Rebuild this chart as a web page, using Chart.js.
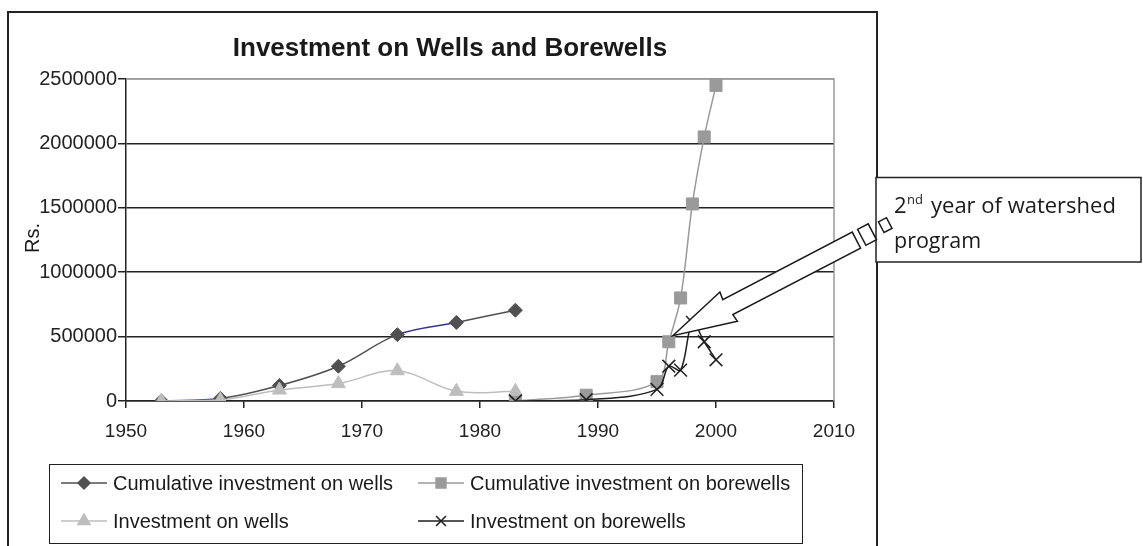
<!DOCTYPE html>
<html>
<head>
<meta charset="utf-8">
<title>Investment on Wells and Borewells</title>
<script src="https://cdn.jsdelivr.net/npm/chart.js@4.4.1/dist/chart.umd.min.js"></script>
<style>
  body { margin: 0; background: #fff; }
  #wrap { width: 1143px; height: 546px; }
</style>
</head>
<body>
<div id="wrap"><canvas id="lineChart" width="1143" height="546"></canvas></div>
<script>

let wellYears = [1953, 1958, 1963, 1968, 1973, 1978, 1983];
let boreYears = [1983, 1989, 1995, 1996, 1997, 1998, 1999, 2000];

let cumWells = [0, 20000, 120000, 270000, 515000, 610000, 705000];
let invWells = [0, 8000, 85000, 135000, 235000, 75000, 75000];
let cumBorewells = [0, 45000, 150000, 460000, 800000, 1530000, 2050000, 2450000];
let invBorewells = [0, 10000, 90000, 270000, 240000, 610000, 460000, 320000];

let seriesNames = [
  'Cumulative investment on wells',
  'Cumulative investment on borewells',
  'Investment on wells',
  'Investment on borewells'
];
let xTicks = [1950, 1960, 1970, 1980, 1990, 2000, 2010];
let yTicks = [0, 500000, 1000000, 1500000, 2000000, 2500000];

let titleText = 'Investment on Wells and Borewells';
let yTitle = 'Rs.';
let noteYear = 1996;
let noteText = ['2', 'nd', 'year of watershed', 'program'];

const SANS = "'Liberation Sans', Arial, sans-serif";
const NOTE = "'Open Sans', sans-serif";
Chart.defaults.font.family = SANS;
Chart.defaults.color = '#222';

function toPoints(xs, ys) {
  return xs.map(function (x, i) { return { x: x, y: ys[i] }; });
}

var styles = [
  { color: '#505050', point: 'rectRot', r: 7, lr: 6 },
  { color: '#9a9a9a', point: 'rect', r: 8.5, lr: 7 },
  { color: '#bdbdbd', point: 'triangle', r: 8, lr: 7 },
  { color: '#1e1e1e', point: 'crossRot', r: 9, lr: 7 }
];

function makeSet(i, data, order) {
  let s = styles[i];
  return {
    label: seriesNames[i],
    data: data,
    order: order,
    borderColor: s.color,
    backgroundColor: s.color,
    borderWidth: 1.5,
    pointStyle: s.point,
    pointRadius: s.r,
    pointBorderWidth: i == 3 ? 1.5 : 1,
    pointBackgroundColor: s.color,
    pointBorderColor: s.color,
    tension: 0.35
  };
}

var datasets = [
  makeSet(0, toPoints(wellYears, cumWells), 4),
  makeSet(1, toPoints(boreYears, cumBorewells), 3),
  makeSet(2, toPoints(wellYears, invWells), 2),
  makeSet(3, toPoints(boreYears, invBorewells), 1)
];
// the reference shows two bluish stretches on the first series
datasets[0].segment = {
  borderColor: function (ctx) { return (ctx.p0DataIndex == 0 || ctx.p0DataIndex == 4) ? '#35358f' : undefined; }
};

function marker(ctx, s, x, y, r) {
  ctx.save();
  ctx.fillStyle = s.color;
  ctx.strokeStyle = s.color;
  ctx.lineWidth = 1.5;
  Chart.helpers.drawPoint(ctx, { pointStyle: s.point, radius: r, rotation: 0, borderWidth: 1.5 }, x, y);
  ctx.restore();
}

var decor = {
  id: 'decor',
  beforeDraw: function (chart) {
    let ctx = chart.ctx;
    ctx.save();
    ctx.fillStyle = '#fff';
    ctx.fillRect(0, 0, chart.width, chart.height);
    ctx.restore();
  },
  beforeDatasetsDraw: function (chart) {
    let ctx = chart.ctx, a = chart.chartArea;
    ctx.save();
    ctx.strokeStyle = '#9a9a9a';
    ctx.lineWidth = 1.5;
    ctx.beginPath();
    ctx.moveTo(a.left, a.top);
    ctx.lineTo(a.right, a.top);
    ctx.lineTo(a.right, a.bottom);
    ctx.stroke();
    ctx.restore();
  },
  afterDraw: function (chart) {
    let ctx = chart.ctx;
    ctx.save();

    // outer frame
    ctx.strokeStyle = '#222';
    ctx.lineWidth = 2;
    ctx.beginPath();
    ctx.moveTo(8, 560);
    ctx.lineTo(8, 12);
    ctx.lineTo(877, 12);
    ctx.lineTo(877, 560);
    ctx.stroke();

    // title
    ctx.fillStyle = '#1a1a1a';
    ctx.font = 'bold 26px ' + SANS;
    ctx.textAlign = 'center';
    ctx.textBaseline = 'alphabetic';
    ctx.fillText(titleText, 450, 56);

    // y title
    ctx.save();
    ctx.translate(33, 238);
    ctx.rotate(-Math.PI / 2);
    ctx.font = '20px ' + SANS;
    ctx.textBaseline = 'middle';
    ctx.fillText(yTitle, 0, 0);
    ctx.restore();

    // legend
    ctx.lineWidth = 1;
    ctx.strokeStyle = '#222';
    ctx.fillStyle = '#fff';
    ctx.fillRect(49.5, 464.5, 753, 79);
    ctx.strokeRect(49.5, 464.5, 753, 79);
    let cols = [84, 441], rows = [483, 521];
    ctx.font = '20px ' + SANS;
    ctx.textAlign = 'left';
    ctx.textBaseline = 'middle';
    for (let i = 0; i < 4; i++) {
      let cx = cols[i % 2], cy = rows[Math.floor(i / 2)], s = styles[i];
      ctx.strokeStyle = s.color;
      ctx.lineWidth = 1.5;
      ctx.beginPath();
      ctx.moveTo(cx - 23, cy);
      ctx.lineTo(cx + 23, cy);
      ctx.stroke();
      marker(ctx, s, cx, cy, s.lr);
      ctx.fillStyle = '#1a1a1a';
      ctx.fillText(seriesNames[i], cx + 29, cy + 1);
    }

    // callout box
    ctx.fillStyle = '#fff';
    ctx.fillRect(876, 177.5, 265, 84.5);
    ctx.strokeStyle = '#222';
    ctx.lineWidth = 1.5;
    ctx.strokeRect(876, 177.5, 265, 84.5);
    ctx.fillStyle = '#1a1a1a';
    ctx.textBaseline = 'alphabetic';
    ctx.font = '22px ' + NOTE;
    ctx.fillText(noteText[0], 894, 213);
    ctx.font = '13px ' + NOTE;
    ctx.fillText(noteText[1], 907, 204);
    ctx.font = '22px ' + NOTE;
    ctx.fillText(noteText[2], 931, 213);
    ctx.font = '21.5px ' + NOTE;
    ctx.fillText(noteText[3], 894, 248);

    // block arrow pointing at the 1996 borewell point
    let xs = chart.scales.x, ys = chart.scales.y;
    let idx = boreYears.indexOf(noteYear);
    let tipX = xs.getPixelForValue(noteYear) + 4;
    let tipY = ys.getPixelForValue(cumBorewells[idx]) - 6;
    let ux = 0.887, uy = -0.462, nx = 0.462, ny = 0.887;
    function P(a, p) { return [tipX + ux * a + nx * p, tipY + uy * a + ny * p]; }
    function poly(pts) {
      ctx.beginPath();
      ctx.moveTo(pts[0][0], pts[0][1]);
      for (let k = 1; k < pts.length; k++) ctx.lineTo(pts[k][0], pts[k][1]);
      ctx.closePath();
      ctx.fill();
      ctx.stroke();
    }
    ctx.fillStyle = '#fff';
    ctx.strokeStyle = '#1a1a1a';
    ctx.lineWidth = 1.5;
    ctx.lineJoin = 'miter';
    poly([P(0, 0), P(62, -17), P(61, -9), P(207, -9), P(207, 9), P(63, 9), P(64, 17)]);
    poly([P(213, -9), P(225, -9), P(225, 9), P(213, 9)]);
    poly([P(235, -6), P(244, -6), P(244, 6), P(235, 6)]);

    ctx.restore();
  }
};

var ctx = document.getElementById('lineChart').getContext('2d');
var lineChart = new Chart(ctx, {
  type: 'line',
  data: { datasets: datasets },
  options: {
    responsive: false,
    animation: false,
    devicePixelRatio: 1,
    layout: { padding: { left: 0, right: 309, top: 79, bottom: 100 } },
    plugins: {
      legend: { display: false },
      title: { display: false },
      tooltip: { enabled: false }
    },
    scales: {
      x: {
        type: 'linear',
        min: 1950,
        max: 2010,
        afterBuildTicks: function (scale) { scale.ticks = xTicks.map(function (v) { return { value: v }; }); },
        afterFit: function (scale) { scale.height = 45; },
        ticks: {
          font: { size: 19 },
          color: '#222',
          padding: 12,
          maxRotation: 0,
          autoSkip: false,
          callback: function (v) { return String(v); }
        },
        grid: {
          drawOnChartArea: false,
          drawTicks: true,
          tickLength: 7,
          tickColor: '#222',
          lineWidth: 1.5
        },
        border: { color: '#222', width: 1.5 }
      },
      y: {
        min: 0,
        max: 2500000,
        afterBuildTicks: function (scale) { scale.ticks = yTicks.map(function (v) { return { value: v }; }); },
        afterFit: function (scale) { scale.width = 126; },
        ticks: {
          font: { size: 20 },
          color: '#222',
          padding: 1,
          autoSkip: false,
          callback: function (v) { return String(v); }
        },
        grid: {
          color: function (c) { return c.tick && c.tick.value == 2500000 ? '#9a9a9a' : '#222'; },
          lineWidth: 1.5,
          tickLength: 8,
          tickColor: '#222'
        },
        border: { color: '#222', width: 1.5 }
      }
    }
  },
  plugins: [decor]
});

</script>
</body>
</html>
